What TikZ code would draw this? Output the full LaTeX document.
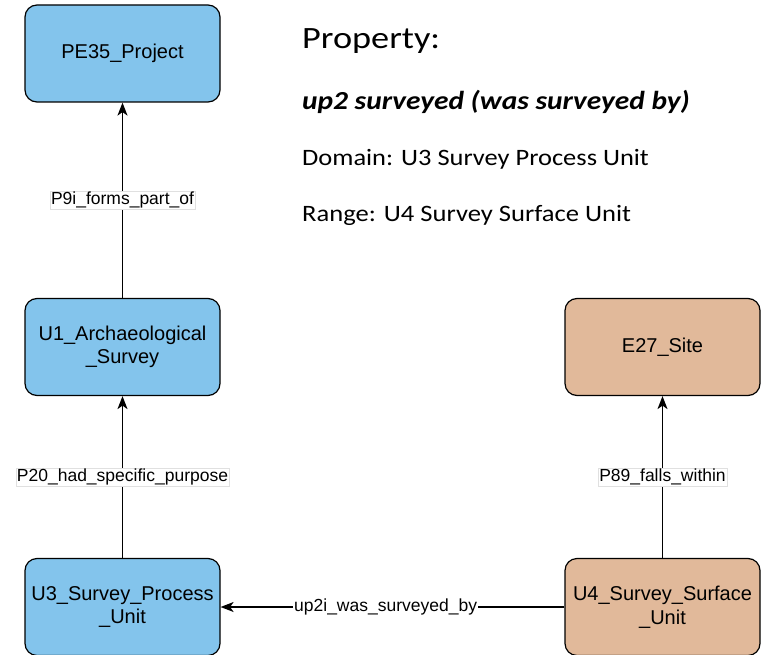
\documentclass[tikz,border=0pt]{standalone}
\usepackage{fontspec}
\setmainfont{Liberation Sans}
\newfontfamily\calfont{Carlito}
\usetikzlibrary{arrows.meta}
\definecolor{boxblue}{HTML}{83C4EC}
\definecolor{boxtan}{HTML}{E1B99A}
\tikzset{
  classbox/.style={draw=black, line width=1.2pt, rounded corners=12pt, minimum width=195pt, minimum height=97pt, align=center, inner sep=0pt, font=\fontsize{20}{23.5}\selectfont},
  bluebox/.style={classbox, fill=boxblue},
  tanbox/.style={classbox, fill=boxtan},
  rel/.style={draw=black, line width=1.5pt, -{Stealth[length=13pt,width=10pt,inset=3.5pt]}},
  rellabel/.style={fill=white, draw=black!12, line width=0.4pt, inner sep=1pt, font=\fontsize{17.5}{20}\selectfont},
  infotext/.style={anchor=base west, inner sep=0pt, font=\calfont\fontsize{23.5}{28}\selectfont}
}
\begin{document}
\begin{tikzpicture}[x=1pt,y=-1pt]
\useasboundingbox (0,0) rectangle (765,655);
\node[bluebox] (pe35) at (122.5,53.5) {PE35\_Project};
\node[bluebox] (u1) at (122.5,347) {U1\_Archaeological\\\_Survey};
\node[bluebox] (u3) at (122.5,607) {U3\_Survey\_Process\\\_Unit};
\node[tanbox] (e27) at (662.5,347) {E27\_Site};
\node[tanbox] (u4) at (662.5,607) {U4\_Survey\_Surface\\\_Unit};

\draw[rel] (u1) -- node[rellabel, pos=0.5] (l1) {P9i\_forms\_part\_of} (pe35);
\draw[rel] (u3) -- node[rellabel, pos=0.5] (l2) {P20\_had\_specific\_purpose} (u1);
\draw[rel] (u4) -- node[rellabel, pos=0.5] (l3) {P89\_falls\_within} (e27);
\draw[rel] (u4) -- node[fill=white, inner sep=1pt, font=\fontsize{17.5}{20}\selectfont, pos=0.52] (l4) {up2i\_was\_surveyed\_by} (u3);

\node[infotext, font=\calfont\fontsize{31}{36}\selectfont] (t1) at (302,49) {\scalebox{1.17}[1]{Property:}};
\node[infotext, font=\calfont\fontsize{26}{30}\selectfont] (t2) at (302,110) {\scalebox{1.13}[1]{\bfseries\itshape up2 surveyed (was surveyed by)}};
\node[infotext] (t3) at (302,166) {\scalebox{1.125}[1]{Domain: U3 Survey Process Unit}};
\node[infotext] (t4) at (302,222) {\scalebox{1.13}[1]{Range: U4 Survey Surface Unit}};
\end{tikzpicture}
\end{document}
